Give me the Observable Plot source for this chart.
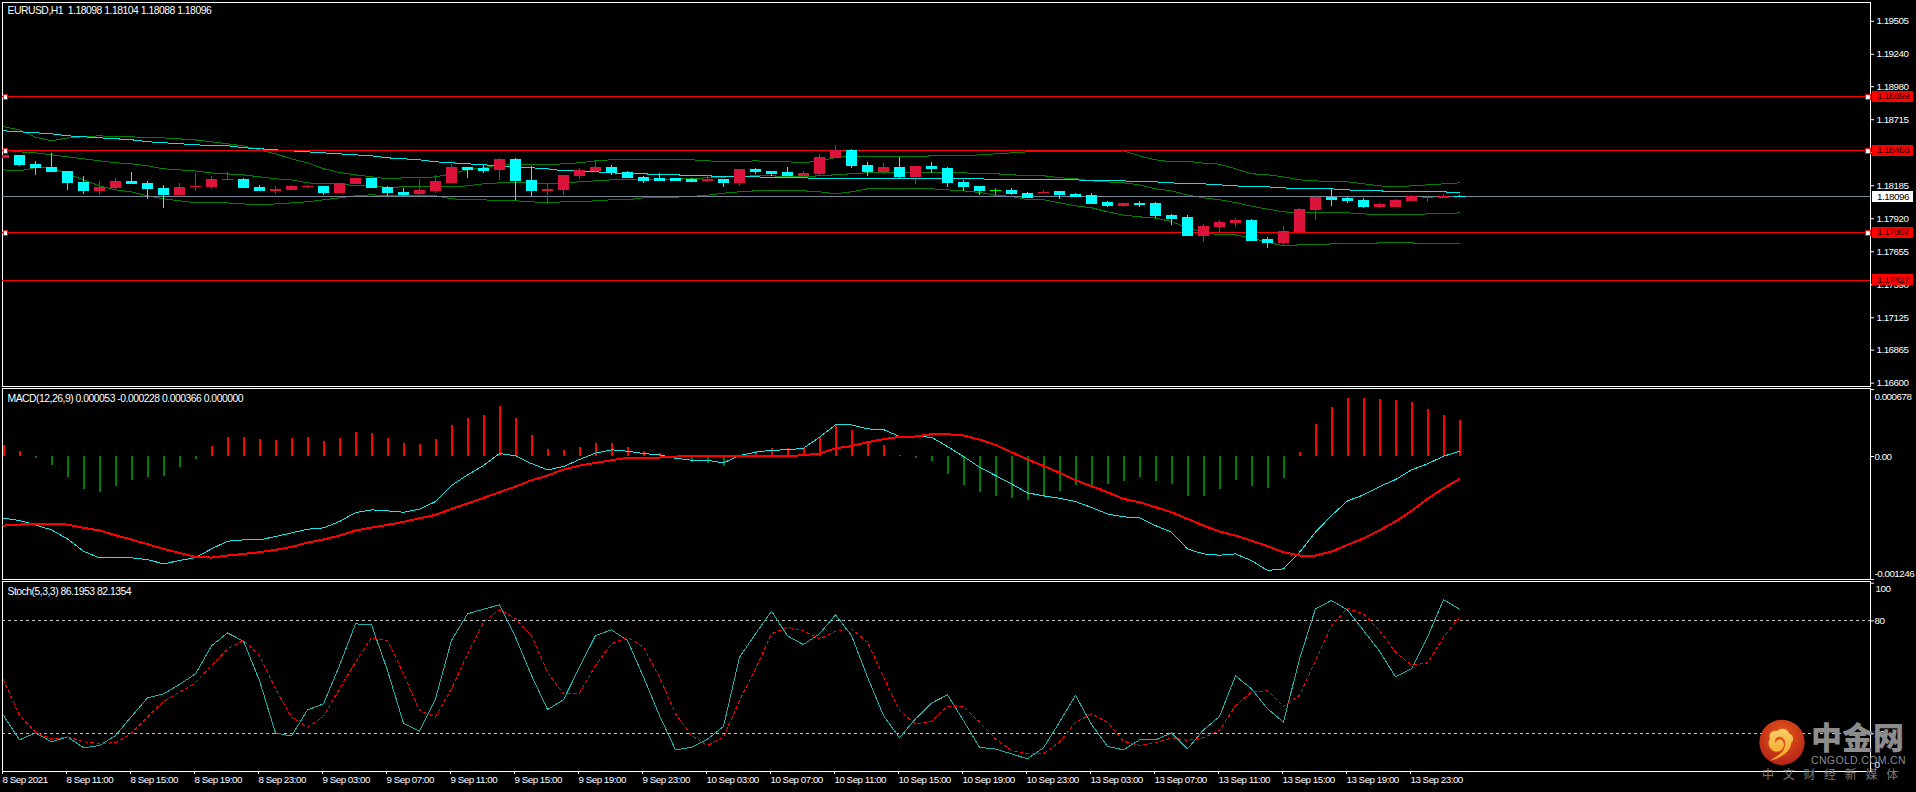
<!DOCTYPE html>
<html><head><meta charset="utf-8">
<style>
html,body{margin:0;padding:0;background:#000;width:1916px;height:792px;overflow:hidden}
#wrap{position:relative;width:1916px;height:792px}
#wrap>svg{position:absolute;left:0}
.zh{position:absolute;font-family:"Noto Sans CJK SC";white-space:nowrap}
</style>
<script src="https://cdn.jsdelivr.net/npm/d3@7"></script>
<script src="https://cdn.jsdelivr.net/npm/@observablehq/plot@0.6"></script>
</head><body><div id="wrap"></div>
<script>
const titlePrice = "EURUSD,H1  1.18098 1.18104 1.18088 1.18096";
const open = [1.18404,1.18428,1.18355,1.18331,1.18299,1.18211,1.18139,1.18163,1.18219,1.18203,
1.18163,1.18107,1.18171,1.18171,1.18227,1.18235,1.18171,1.18139,1.18147,1.18171,
1.18179,1.18123,1.18195,1.18243,1.18171,1.18131,1.18115,1.18139,1.18203,1.18331,
1.18323,1.18307,1.18396,1.18227,1.18139,1.18147,1.18259,1.18299,1.18331,1.18291,
1.18251,1.18243,1.18243,1.18235,1.18219,1.18235,1.18203,1.18315,1.18299,1.18291,
1.18259,1.18275,1.18404,1.18468,1.18347,1.18291,1.18331,1.18251,1.18339,1.18323,
1.18211,1.18179,1.18143,1.18147,1.18123,1.18123,1.18139,1.18115,1.18107,1.18050,
1.18018,1.18042,1.18042,1.17946,1.17930,1.17777,1.17849,1.17881,1.17906,1.17753,
1.17720,1.17809,1.17986,1.18091,1.18083,1.18066,1.18010,1.18010,1.18058,1.18083,
1.18083,1.18098];
const high = [1.18428,1.18428,1.18379,1.18444,1.18299,1.18259,1.18219,1.18243,1.18291,1.18219,
1.18187,1.18203,1.18283,1.18259,1.18291,1.18243,1.18187,1.18179,1.18187,1.18187,
1.18179,1.18203,1.18243,1.18243,1.18179,1.18163,1.18235,1.18267,1.18355,1.18331,
1.18347,1.18404,1.18404,1.18339,1.18195,1.18267,1.18323,1.18387,1.18347,1.18299,
1.18259,1.18283,1.18243,1.18243,1.18267,1.18235,1.18315,1.18323,1.18299,1.18331,
1.18299,1.18436,1.18508,1.18476,1.18371,1.18363,1.18412,1.18339,1.18371,1.18331,
1.18227,1.18179,1.18163,1.18163,1.18131,1.18147,1.18139,1.18123,1.18123,1.18058,
1.18042,1.18058,1.18050,1.17954,1.17946,1.17873,1.17906,1.17922,1.17914,1.17769,
1.17857,1.18002,1.18107,1.18155,1.18091,1.18083,1.18042,1.18075,1.18107,1.18099,
1.18115,1.18104];
const low = [1.18404,1.18339,1.18267,1.18291,1.18147,1.18115,1.18107,1.18147,1.18195,1.18075,
1.18002,1.18091,1.18139,1.18155,1.18227,1.18163,1.18139,1.18115,1.18147,1.18163,
1.18107,1.18123,1.18195,1.18163,1.18099,1.18099,1.18107,1.18123,1.18203,1.18243,
1.18283,1.18227,1.18066,1.18099,1.18034,1.18107,1.18235,1.18291,1.18267,1.18243,
1.18203,1.18219,1.18219,1.18211,1.18211,1.18171,1.18179,1.18275,1.18259,1.18259,
1.18235,1.18259,1.18404,1.18323,1.18259,1.18275,1.18235,1.18195,1.18283,1.18171,
1.18139,1.18107,1.18107,1.18107,1.18083,1.18123,1.18075,1.18091,1.18034,1.18010,
1.18010,1.18010,1.17922,1.17865,1.17777,1.17728,1.17809,1.17849,1.17737,1.17680,
1.17696,1.17809,1.17906,1.18018,1.18042,1.18002,1.18002,1.18010,1.18058,1.18050,
1.18083,1.18088];
const close = [1.18428,1.18347,1.18323,1.18291,1.18203,1.18139,1.18171,1.18219,1.18195,1.18155,
1.18107,1.18171,1.18179,1.18235,1.18235,1.18163,1.18139,1.18155,1.18179,1.18179,
1.18123,1.18203,1.18243,1.18163,1.18123,1.18115,1.18147,1.18219,1.18331,1.18315,
1.18307,1.18396,1.18219,1.18139,1.18155,1.18267,1.18307,1.18331,1.18283,1.18243,
1.18219,1.18227,1.18219,1.18219,1.18235,1.18203,1.18315,1.18291,1.18283,1.18259,
1.18283,1.18412,1.18468,1.18339,1.18291,1.18331,1.18251,1.18339,1.18315,1.18203,
1.18171,1.18139,1.18143,1.18115,1.18083,1.18131,1.18107,1.18099,1.18034,1.18018,
1.18042,1.18034,1.17938,1.17914,1.17777,1.17857,1.17889,1.17906,1.17737,1.17720,
1.17817,1.17994,1.18091,1.18075,1.18058,1.18010,1.18034,1.18066,1.18099,1.18091,
1.18099,1.18096];
const maLine = [1.18626,1.18618,1.18610,1.18602,1.18586,1.18578,1.18570,1.18562,1.18554,1.18538,
1.18530,1.18522,1.18514,1.18506,1.18506,1.18490,1.18482,1.18473,1.18465,1.18457,
1.18449,1.18441,1.18433,1.18425,1.18409,1.18401,1.18393,1.18377,1.18369,1.18361,
1.18353,1.18345,1.18337,1.18329,1.18321,1.18305,1.18305,1.18297,1.18289,1.18281,
1.18281,1.18273,1.18273,1.18265,1.18265,1.18257,1.18257,1.18257,1.18249,1.18249,
1.18249,1.18241,1.18241,1.18241,1.18241,1.18241,1.18241,1.18241,1.18241,1.18241,
1.18241,1.18241,1.18233,1.18233,1.18233,1.18233,1.18233,1.18233,1.18224,1.18224,
1.18224,1.18216,1.18216,1.18208,1.18200,1.18200,1.18192,1.18184,1.18176,1.18176,
1.18168,1.18160,1.18160,1.18160,1.18152,1.18144,1.18144,1.18136,1.18136,1.18136,
1.18136,1.18128];
const bandUpper = [1.18658,1.18634,1.18575,1.18545,1.18569,1.18578,1.18586,1.18578,1.18578,1.18569,
1.18569,1.18561,1.18553,1.18537,1.18521,1.18505,1.18473,1.18441,1.18401,1.18369,
1.18321,1.18291,1.18272,1.18256,1.18240,1.18248,1.18248,1.18256,1.18280,1.18312,
1.18329,1.18353,1.18353,1.18353,1.18353,1.18361,1.18369,1.18385,1.18393,1.18393,
1.18393,1.18393,1.18393,1.18393,1.18385,1.18377,1.18377,1.18385,1.18377,1.18377,
1.18369,1.18385,1.18409,1.18425,1.18417,1.18417,1.18417,1.18417,1.18425,1.18425,
1.18425,1.18433,1.18441,1.18449,1.18457,1.18457,1.18457,1.18457,1.18457,1.18457,
1.18465,1.18425,1.18393,1.18377,1.18382,1.18366,1.18358,1.18321,1.18281,1.18273,
1.18256,1.18232,1.18224,1.18216,1.18216,1.18200,1.18184,1.18176,1.18184,1.18192,
1.18200,1.18208];
const bandMiddle = [1.18473,1.18457,1.18449,1.18433,1.18417,1.18401,1.18385,1.18369,1.18361,1.18345,
1.18321,1.18312,1.18304,1.18288,1.18280,1.18272,1.18256,1.18240,1.18232,1.18208,
1.18200,1.18200,1.18184,1.18184,1.18171,1.18176,1.18176,1.18176,1.18176,1.18184,
1.18200,1.18208,1.18208,1.18208,1.18200,1.18208,1.18216,1.18224,1.18232,1.18232,
1.18232,1.18232,1.18241,1.18241,1.18249,1.18254,1.18259,1.18265,1.18265,1.18257,
1.18257,1.18265,1.18273,1.18281,1.18289,1.18289,1.18289,1.18289,1.18289,1.18289,
1.18289,1.18281,1.18281,1.18273,1.18265,1.18265,1.18249,1.18241,1.18224,1.18216,
1.18208,1.18192,1.18160,1.18144,1.18109,1.18088,1.18072,1.18050,1.18021,1.17997,
1.17975,1.17969,1.17967,1.17967,1.17967,1.17959,1.17951,1.17951,1.17951,1.17959,
1.17959,1.17967];
const bandLower = [1.18312,1.18304,1.18329,1.18329,1.18280,1.18232,1.18184,1.18152,1.18136,1.18104,
1.18080,1.18064,1.18047,1.18047,1.18047,1.18039,1.18031,1.18039,1.18047,1.18056,
1.18072,1.18088,1.18104,1.18112,1.18104,1.18104,1.18104,1.18104,1.18080,1.18072,
1.18072,1.18064,1.18064,1.18056,1.18047,1.18056,1.18056,1.18064,1.18072,1.18072,
1.18088,1.18093,1.18093,1.18099,1.18109,1.18125,1.18136,1.18144,1.18144,1.18144,
1.18144,1.18136,1.18120,1.18136,1.18160,1.18160,1.18160,1.18160,1.18160,1.18152,
1.18144,1.18131,1.18109,1.18099,1.18072,1.18072,1.18048,1.18024,1.18008,1.17976,
1.17949,1.17935,1.17925,1.17898,1.17847,1.17810,1.17791,1.17791,1.17764,1.17732,
1.17702,1.17710,1.17710,1.17718,1.17718,1.17718,1.17726,1.17726,1.17726,1.17718,
1.17718,1.17718];
const levelsHandled = [1.18899,1.18466,1.17807];
const levels = [1.18899,1.18466,1.17807,1.17427];
const lastPrice = 1.18096;
const priceTicks = [1.19505,1.19240,1.18980,1.18715,1.18450,1.18185,1.17920,1.17655,1.17390,1.17125,1.16865,1.16600];
const titleMacd = "MACD(12,26,9) 0.000053 -0.000228 0.000366 0.000000";
const macdHist = [111,51,-17,-91,-209,-334,-365,-304,-243,-213,-203,-111,-30,101,192,192,172,162,182,192,
152,182,243,233,182,132,122,172,314,385,415,506,385,213,71,61,91,132,132,91,
51,30,0,-61,-71,-101,0,51,81,81,81,192,314,263,152,111,7,-17,-51,-182,
-294,-365,-405,-425,-446,-405,-354,-294,-294,-284,-253,-213,-253,-284,-405,-405,-334,-243,-304,-324,
-223,41,324,496,587,587,577,567,547,476,415,366];
const macdMain = [-624,-648,-692,-743,-834,-959,-1026,-1026,-1026,-1043,-1087,-1053,-1023,-935,-857,-844,-844,-810,-773,-736,
-722,-658,-567,-540,-550,-564,-533,-456,-294,-186,-91,30,7,-71,-135,-101,-30,34,68,54,
30,17,-17,-37,-37,-64,10,44,64,68,84,196,321,321,280,273,203,203,196,101,
0,-108,-192,-277,-368,-398,-422,-456,-516,-581,-611,-621,-699,-766,-935,-986,-999,-986,-1053,-1154,
-1137,-969,-766,-597,-449,-388,-304,-233,-135,-74,3,53];
const macdSignal = [-699,-689,-678,-682,-689,-722,-749,-797,-840,-888,-935,-975,-1016,-1023,-1002,-986,-969,-945,-915,-871,
-840,-800,-749,-719,-692,-662,-624,-591,-530,-476,-419,-361,-304,-240,-192,-132,-91,-64,-37,-14,
-10,-10,0,3,10,10,10,3,3,3,14,30,84,105,145,176,199,203,226,226,
213,172,118,44,-30,-95,-165,-240,-300,-361,-429,-462,-513,-564,-631,-699,-759,-800,-851,-908,
-969,-1002,-1002,-962,-894,-827,-746,-658,-550,-429,-321,-228];
const macdAxis = [0.000678,0,-0.001246];
const titleStoch = "Stoch(5,3,3) 86.1953 82.1354";
const stochMain = [29.7,16.8,20.5,15.8,18.4,12.6,13.8,19.1,29.2,39.1,41.2,46.2,51.9,66.7,73.6,69.2,48.3,20.4,18.9,32.7,
35.9,56.3,78.4,77.9,53.6,25.7,21.4,38.6,69.6,83.7,86.2,88.5,71.3,51.0,32.9,38.1,55.4,72.2,75.2,69.6,
50.1,29.7,11.5,12.9,17.2,23.9,60.7,73.1,85.1,72.0,67.4,73.1,83.2,72.2,50.1,29.7,17.9,28.0,36.3,40.7,
27.1,12.9,11.9,9.4,6.7,12.6,26.2,40.4,25.0,13.3,11.5,16.8,16.8,20.5,12.0,22.1,29.2,50.8,43.9,33.3,
26.2,59.8,86.4,90.8,85.8,74.9,63.9,50.3,54.5,71.3,91.3,86.2];
const stochSignal = [48.7,29.7,20.9,17.2,18.4,15.8,15.0,15.2,20.4,28.9,37.3,42.1,47.1,56.3,65.1,69.6,61.6,43.9,28.9,23.5,
29.2,43.9,58.1,71.0,69.6,51.9,32.4,28.9,43.9,62.5,79.3,86.0,81.1,72.2,52.7,41.2,41.6,56.3,67.8,71.3,
66.0,50.1,30.6,19.1,13.8,18.2,37.7,54.5,73.1,76.6,74.9,70.4,74.5,75.8,68.7,50.1,32.4,25.3,26.7,34.7,
34.5,26.2,17.3,11.2,9.4,9.4,15.6,26.2,30.6,26.2,16.1,13.8,15.2,17.9,16.5,17.9,21.8,35.0,42.1,43.0,
34.5,40.4,58.9,77.5,86.7,83.7,74.9,63.4,56.3,57.7,71.3,82.1];
const stochLevels = [80,20];
const stochAxis = [100,80,20,0];
const timeLabels = ["8 Sep 2021","8 Sep 11:00","8 Sep 15:00","8 Sep 19:00","8 Sep 23:00",
"9 Sep 03:00","9 Sep 07:00","9 Sep 11:00","9 Sep 15:00","9 Sep 19:00","9 Sep 23:00",
"10 Sep 03:00","10 Sep 07:00","10 Sep 11:00","10 Sep 15:00","10 Sep 19:00","10 Sep 23:00",
"13 Sep 03:00","13 Sep 07:00","13 Sep 11:00","13 Sep 15:00","13 Sep 19:00","13 Sep 23:00"];
const barsPerLabel = 4;
const C = {up:"#dc143c",down:"#00ffff",doji:"#00ff00",band:"#008000",ma:"#00e8e8",level:"#ff0000",
  last:"#778899",macdUp:"#ff0000",macdDown:"#008000",macdLine:"#19e6e6",signal:"#ff0000",
  stoch:"#20b2aa",stochSig:"#ff0000",grid:"#c8c8c8"};
const crisp = {shapeRendering:"crispEdges"};
const textStyle = {background:"#000",color:"#fff",fontFamily:"'Liberation Sans',sans-serif",fontSize:"9.8px",letterSpacing:"-.5px",overflow:"visible"};
const titleFont = 10.4;
const xMax = (1870-3)/16;
const xOpts = {domain:[-1/16,xMax],axis:null};
const base = {width:1916,marginLeft:2,marginRight:46,x:xOpts,style:textStyle};
const bars = open.map((o,i)=>({i,o,h:high[i],l:low[i],c:close[i],
  color:close[i]>o?C.up:close[i]<o?C.down:C.doji}));
const series = a => a.map((v,i)=>({i,v}));
const line = (a,stroke,extra={}) => Plot.line(series(a),{x:"i",y:"v",stroke,strokeWidth:1,...crisp,...extra});
const pxPerPrice = 12453;
const bodyHalf = 5.5;
const price = Plot.plot({...base,height:387,marginTop:2,marginBottom:1,
  y:{domain:[1.16573,1.19656],axis:null},
  marks:[
    Plot.frame({stroke:"#fff"}),
    Plot.axisY(priceTicks,{anchor:"right",tickSize:3,tickPadding:3,tickFormat:d3.format(".5f"),label:null}),
    line(bandUpper,C.band),line(bandMiddle,C.band),line(bandLower,C.band),
    line(maLine,C.ma),
    Plot.ruleY(levels,{stroke:C.level,strokeWidth:1,...crisp}),
    Plot.ruleY([lastPrice],{stroke:C.last,strokeWidth:1,...crisp}),
    Plot.ruleX(bars,{x:"i",y1:"l",y2:"h",stroke:"color",strokeWidth:1,...crisp,clip:true}),
    Plot.rect(bars,{x1:d=>d.i-bodyHalf/16,x2:d=>d.i+bodyHalf/16,y1:"o",y2:"c",dx:.5,fill:"color",...crisp,clip:true}),
    Plot.ruleY(bars.filter(d=>Math.abs(d.o-d.c)<2/pxPerPrice),{x1:d=>d.i-bodyHalf/16,x2:d=>d.i+bodyHalf/16,y:"c",stroke:"color",strokeWidth:1,...crisp}),
    Plot.dot(levelsHandled,{x:()=>0.125,y:d=>d,symbol:"square",r:2.6,fill:"#fff",stroke:C.level,strokeWidth:1,...crisp}),
    Plot.dot(levelsHandled,{x:()=>116.53,y:d=>d,symbol:"square",r:2.6,fill:"#fff",stroke:C.level,strokeWidth:1,...crisp}),
    Plot.rect(levels,{x1:()=>xMax+2/16,x2:()=>xMax+43/16,y1:d=>d-5.5/pxPerPrice,y2:d=>d+5.5/pxPerPrice,fill:"#f00",...crisp}),
    Plot.text(levels,{x:()=>xMax,y:d=>d,dx:6.5,dy:-0.5,text:d=>d.toFixed(5),textAnchor:"start",fill:"#200"}),
    Plot.rect([lastPrice],{x1:()=>xMax+2/16,x2:()=>xMax+43/16,y1:d=>d-5.5/pxPerPrice,y2:d=>d+5.5/pxPerPrice,fill:"#fff",...crisp}),
    Plot.text([lastPrice],{x:()=>xMax,y:d=>d,dx:6.5,text:d=>d.toFixed(5),textAnchor:"start",fill:"#000"}),
    Plot.text([titlePrice],{frameAnchor:"top-left",dx:5,dy:8,textAnchor:"start",lineAnchor:"middle",fill:"#fff",fontSize:titleFont})
  ]});
const macdRows = macdHist.map((v,i)=>({i,v:v/1e6}));
const macd = Plot.plot({...base,height:193,marginTop:1,marginBottom:1,
  y:{domain:[-0.001245,0.000689],axis:null},
  marks:[
    Plot.frame({stroke:"#fff"}),
    Plot.axisY(macdAxis,{anchor:"right",tickSize:3,tickFormat:()=>"",label:null}),
    Plot.ruleX(macdRows,{x:"i",y1:()=>0,y2:"v",stroke:d=>d.v>=0?C.macdUp:C.macdDown,strokeWidth:2,...crisp}),
    Plot.line(macdMain.map((v,i)=>({i,v:v/1e6})),{x:"i",y:"v",stroke:C.macdLine,strokeWidth:1,...crisp}),
    Plot.line(macdSignal.map((v,i)=>({i,v:v/1e6})),{x:"i",y:"v",stroke:C.signal,strokeWidth:2,...crisp}),
    Plot.text([titleMacd],{frameAnchor:"top-left",dx:5,dy:10,textAnchor:"start",lineAnchor:"middle",fill:"#fff",fontSize:titleFont}),
    Plot.text([macdAxis[0]],{x:()=>xMax,y:d=>d,dx:4,dy:7,text:d=>d.toFixed(6),textAnchor:"start",fill:"#fff"}),
    Plot.text([macdAxis[1]],{x:()=>xMax,y:d=>d,dx:4,text:d=>d.toFixed(2),textAnchor:"start",fill:"#fff"}),
    Plot.text([macdAxis[2]],{x:()=>xMax,y:d=>d,dx:4,dy:-6,text:d=>d.toFixed(6),textAnchor:"start",fill:"#fff"})
  ]});
const stoch = Plot.plot({...base,height:212,marginTop:1,marginBottom:21,
  y:{domain:[0,100.9],axis:null},
  marks:[
    Plot.frame({stroke:"#fff"}),
    Plot.axisY(stochAxis,{anchor:"right",tickSize:3,tickFormat:()=>"",label:null}),
    Plot.axisX(d3.range(timeLabels.length).map(k=>k*barsPerLabel),{anchor:"bottom",tickSize:3,tickPadding:2,
      textAnchor:"start",dx:-1,tickFormat:d=>timeLabels[d/barsPerLabel],label:null}),
    Plot.ruleY(stochLevels,{stroke:C.grid,strokeWidth:1,strokeDasharray:"3,3",...crisp}),
    line(stochMain,C.stoch),
    line(stochSignal,C.stochSig,{strokeDasharray:"3,3"}),
    Plot.text([titleStoch],{frameAnchor:"top-left",dx:5,dy:10,textAnchor:"start",lineAnchor:"middle",fill:"#fff",fontSize:titleFont}),
    Plot.text([100],{x:()=>xMax,y:d=>d,dx:5,dy:6,textAnchor:"start",fill:"#fff"}),
    Plot.text(stochLevels,{x:()=>xMax,y:d=>d,dx:4,textAnchor:"start",fill:"#fff"}),
    Plot.text([0],{x:()=>xMax,y:d=>d,dx:4,dy:-7,textAnchor:"start",fill:"#fff"})
  ]});
const wrap = document.getElementById("wrap");
[[price,0],[macd,387],[stoch,580]].forEach(([svg,top])=>{svg.style.top=top+"px";wrap.appendChild(svg);});
wrap.insertAdjacentHTML("beforeend",`
<svg style="position:absolute;left:1750px;top:715px;width:166px;height:77px;background:none" viewBox="0 0 498 231">
  <defs>
    <radialGradient id="lg" cx="50%" cy="35%" r="65%"><stop offset="0" stop-color="#ea5a14"/><stop offset="1" stop-color="#b4241a"/></radialGradient>
    <linearGradient id="yg" x1="0" y1="0" x2="0" y2="1"><stop offset="0" stop-color="#f8cf6a"/><stop offset="1" stop-color="#f5a21e"/></linearGradient>
  </defs>
  <circle cx="96" cy="82" r="68" fill="url(#lg)"/>
  <path d="M60 137 C92 130 122 112 124 82 C132 78 132 60 118 56 C114 40 90 36 82 48 C66 44 54 58 60 72 C50 82 58 108 78 110 C96 112 108 92 98 78 C90 70 78 74 78 84 C70 76 80 62 94 66 C112 72 108 106 88 118 C78 126 68 132 60 137 Z" fill="url(#yg)"/>
</svg>
<div class="zh" style="left:1811px;top:713px;font-size:31px;font-weight:900;line-height:46px;color:#8c8c8c;letter-spacing:0">中金网</div>
<div class="zh" style="left:1811px;top:754px;font-family:'Liberation Sans';font-size:10.5px;line-height:13px;color:#8c8c8c;letter-spacing:.35px">CNGOLD.COM.CN</div>
<div class="zh" style="left:1762px;top:766px;font-size:12px;line-height:16px;color:#7a7a7a;letter-spacing:8.7px">中文财经新媒体</div>`);
</script></body></html>
